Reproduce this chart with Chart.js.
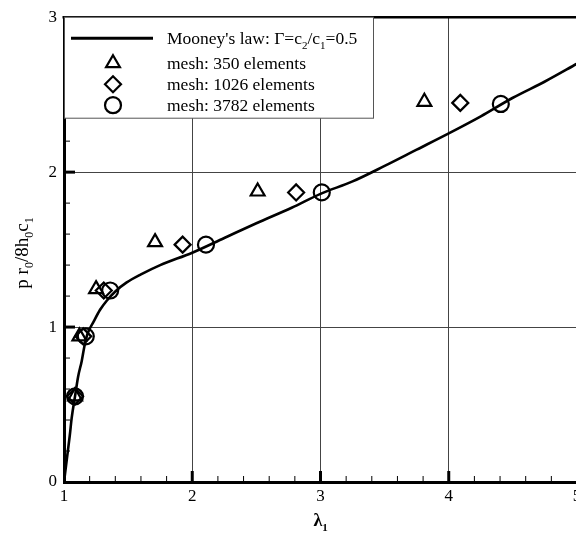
<!DOCTYPE html>
<html>
<head>
<meta charset="utf-8">
<script src="https://cdn.jsdelivr.net/npm/chart.js@4.4.1/dist/chart.umd.min.js"></script>
<style>
  html, body { margin: 0; padding: 0; background: #fff; overflow: hidden; }
  #wrap { width: 590px; height: 540px; }
</style>
</head>
<body>
<div id="wrap"><canvas id="chart" width="590" height="540"></canvas></div>
<script>
// Datos
const curveX = [1.0, 1.015, 1.03, 1.045, 1.06, 1.086, 1.11, 1.138, 1.16, 1.185, 1.228, 1.28, 1.333, 1.40, 1.489, 1.6, 1.75, 2.0, 2.25, 2.5, 2.775, 3.0, 3.25, 3.5, 3.75, 4.0, 4.25, 4.5, 4.75, 5.0];
const curveY = [0.0, 0.10, 0.20, 0.30, 0.414, 0.553, 0.68, 0.78, 0.88, 0.96, 1.03, 1.11, 1.17, 1.23, 1.288, 1.34, 1.40, 1.48, 1.575, 1.67, 1.77, 1.86, 1.94, 2.04, 2.145, 2.25, 2.36, 2.48, 2.585, 2.70];

const mesh350X  = [1.086, 1.12, 1.25, 1.71, 2.51, 3.81];
const mesh350Y  = [0.553, 0.94, 1.245, 1.548, 1.875, 2.454];
const mesh1026X = [1.086, 1.15, 1.31, 1.925, 2.81, 4.09];
const mesh1026Y = [0.553, 0.94, 1.236, 1.532, 1.869, 2.447];
const mesh3782X = [1.086, 1.17, 1.36, 2.107, 3.01, 4.406];
const mesh3782Y = [0.553, 0.94, 1.236, 1.532, 1.869, 2.44];

const xMin = 1, xMax = 5, yMin = 0, yMax = 3;
const legendLabels = ['Mooney\'s law', 'mesh: 350 elements', 'mesh: 1026 elements', 'mesh: 3782 elements'];

const SERIF = "'Liberation Serif', 'Times New Roman', serif";
const pts = (xs, ys) => xs.map((x, i) => ({ x, y: ys[i] }));

// texto con subindices: partes [texto, esSub]
function richWidth(ctx, parts, size) {
  let w = 0;
  parts.forEach(([t, sub]) => {
    ctx.font = (sub ? Math.round(size * 0.62) : size) + 'px ' + SERIF;
    w += ctx.measureText(t).width;
  });
  return w;
}
function drawRich(ctx, parts, x, y, size, bold) {
  ctx.textBaseline = 'alphabetic';
  ctx.textAlign = 'left';
  parts.forEach(([t, sub]) => {
    const s = sub ? Math.round(size * 0.62) : size;
    ctx.font = (bold ? 'bold ' : '') + s + 'px ' + SERIF;
    ctx.fillText(t, x, sub ? y + size * 0.25 : y);
    x += ctx.measureText(t).width;
  });
}

const extras = {
  id: 'extras',
  afterDatasetsDraw(chart) {
    const { ctx, chartArea: a, scales: { x, y } } = chart;
    ctx.save();
    ctx.strokeStyle = '#000';

    // marco superior
    ctx.lineWidth = 2.5;
    ctx.beginPath(); ctx.moveTo(a.left - 1.5, a.top); ctx.lineTo(a.right + 2, a.top); ctx.stroke();

    // ticks hacia adentro
    for (let i = 5 * xMin + 1; i < 5 * xMax; i++) {
      const px = x.getPixelForValue(i / 5);
      const major = i % 5 === 0;
      ctx.lineWidth = major ? 3 : 1;
      ctx.beginPath(); ctx.moveTo(px, a.bottom); ctx.lineTo(px, a.bottom - (major ? 11 : 6)); ctx.stroke();
    }
    for (let i = 5 * yMin + 1; i < 5 * yMax; i++) {
      const py = y.getPixelForValue(i / 5);
      const major = i % 5 === 0;
      ctx.lineWidth = major ? 3 : 1;
      ctx.beginPath(); ctx.moveTo(a.left, py); ctx.lineTo(a.left + (major ? 11 : 6), py); ctx.stroke();
    }

    // leyenda
    const lx = a.left, ly = a.top, lw = 309, lh = 101;
    ctx.fillStyle = '#fff';
    ctx.fillRect(lx, ly, lw, lh);
    ctx.lineWidth = 1;
    ctx.strokeStyle = '#555';
    ctx.strokeRect(lx + 0.5, ly, lw, lh);
    ctx.strokeStyle = '#000';
    const rows = [ly + 21, ly + 46, ly + 67, ly + 88];
    ctx.lineWidth = 3;
    ctx.beginPath(); ctx.moveTo(lx + 7, rows[0]); ctx.lineTo(lx + 89, rows[0]); ctx.stroke();
    ctx.fillStyle = '#000';
    drawRich(ctx, [[legendLabels[0] + ': \u0393=c', false], ['2', true], ['/c', false], ['1', true], ['=0.5', false]], lx + 103, rows[0] + 6, 17.5);
    chart.data.datasets.slice(1).forEach((ds, i) => {
      ctx.lineWidth = ds.borderWidth;
      ctx.strokeStyle = '#000';
      ctx.fillStyle = 'rgba(0,0,0,0)';
      Chart.helpers.drawPoint(ctx, { pointStyle: ds.pointStyle, radius: ds.pointRadius, rotation: 0, borderWidth: ds.borderWidth }, lx + 49, rows[i + 1]);
      ctx.fillStyle = '#000';
      drawRich(ctx, [[legendLabels[i + 1], false]], lx + 103, rows[i + 1] + 6, 17.5);
    });

    // titulos de ejes
    const yParts = [['p r', false], ['0', true], ['/8h', false], ['0', true], ['c', false], ['1', true]];
    ctx.translate(28, 253);
    ctx.rotate(-Math.PI / 2);
    drawRich(ctx, yParts, -richWidth(ctx, yParts, 19) / 2, 0, 19);
    ctx.restore();

    ctx.save();
    ctx.fillStyle = '#000';
    const xParts = [['\u03bb', false], ['1', true]];
    drawRich(ctx, xParts, x.getPixelForValue(3) - richWidth(ctx, xParts, 18) / 2, 526, 18, true);
    ctx.restore();
  }
};

const markerBase = { showLine: false, backgroundColor: 'rgba(0,0,0,0)', borderColor: '#000', borderWidth: 2.2, pointHoverRadius: 8 };

new Chart(document.getElementById('chart').getContext('2d'), {
  type: 'scatter',
  data: {
    datasets: [
      { label: legendLabels[0], data: pts(curveX, curveY), showLine: true, borderColor: '#000', borderWidth: 2.6,
        pointRadius: 0, cubicInterpolationMode: 'monotone', fill: false },
      Object.assign({ label: legendLabels[1], data: pts(mesh350X, mesh350Y), pointStyle: 'triangle', pointRadius: 8 }, markerBase),
      Object.assign({ label: legendLabels[2], data: pts(mesh1026X, mesh1026Y), pointStyle: 'rectRot', pointRadius: 8 }, markerBase),
      Object.assign({ label: legendLabels[3], data: pts(mesh3782X, mesh3782Y), pointStyle: 'circle', pointRadius: 8 }, markerBase)
    ]
  },
  options: {
    responsive: false,
    animation: false,
    layout: { padding: { top: 12, right: 13, left: 0, bottom: 0 } },
    plugins: { legend: { display: false }, tooltip: { enabled: false } },
    scales: {
      x: {
        type: 'linear', min: xMin, max: xMax,
        afterFit: s => { s.height = 58; },
        ticks: { stepSize: 1, color: '#000', padding: 4, font: { family: SERIF, size: 17 } },
        grid: { drawTicks: false, lineWidth: 1, color: c => (c.tick && (c.tick.value === xMin || c.tick.value === xMax)) ? 'rgba(0,0,0,0)' : '#444' },
        border: { display: true, width: 3, color: '#000' }
      },
      y: {
        type: 'linear', min: yMin, max: yMax,
        afterFit: s => { s.width = 64; },
        ticks: { stepSize: 1, color: '#000', padding: 7, font: { family: SERIF, size: 17 } },
        grid: { drawTicks: false, lineWidth: 1, color: c => (c.tick && (c.tick.value === yMin || c.tick.value === yMax)) ? 'rgba(0,0,0,0)' : '#444' },
        border: { display: true, width: 3, color: '#000' }
      }
    }
  },
  plugins: [extras]
});
</script>
</body>
</html>
